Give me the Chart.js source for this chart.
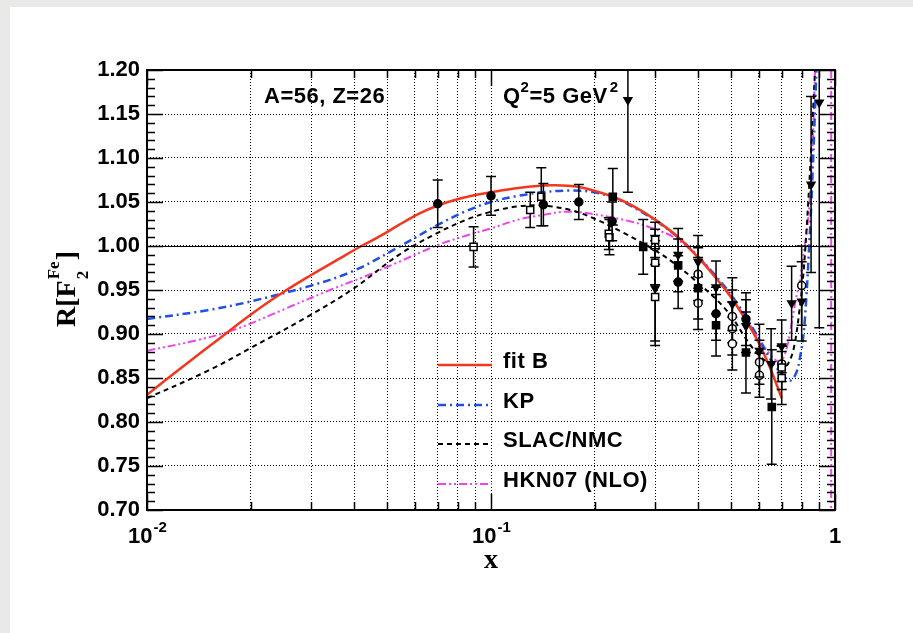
<!DOCTYPE html>
<html>
<head>
<meta charset="utf-8">
<script src="https://cdn.jsdelivr.net/npm/chart.js@4.4.1/dist/chart.umd.min.js"></script>
<style>
  html, body { margin: 0; padding: 0; background: #e9e9e7; }
  canvas { display: block; }
</style>
</head>
<body>
<canvas id="ratioChart" width="913" height="633"></canvas>
<script>
// Axis ticks
const xTicks = [0.01, 0.02, 0.03, 0.04, 0.05, 0.06, 0.07, 0.08, 0.09,
                0.1, 0.2, 0.3, 0.4, 0.5, 0.6, 0.7, 0.8, 0.9, 1];
const xDecades = [0.01, 0.1, 1];
const xDecadeLabels = [['10', '-2'], ['10', '-1'], ['1', '']];
const yTicks = [0.70, 0.75, 0.80, 0.85, 0.90, 0.95, 1.00, 1.05, 1.10, 1.15, 1.20];

// Model curves, [x, R]
const fitB = [
  [0.010, 0.831], [0.013, 0.866], [0.016, 0.893], [0.020, 0.922], [0.025, 0.948],
  [0.030, 0.967], [0.036, 0.985], [0.042, 1.000], [0.048, 1.012], [0.054, 1.024],
  [0.062, 1.037], [0.070, 1.046], [0.078, 1.052], [0.088, 1.057], [0.100, 1.061],
  [0.120, 1.066], [0.150, 1.069], [0.180, 1.067], [0.226, 1.056], [0.260, 1.045],
  [0.300, 1.030], [0.350, 1.010], [0.400, 0.987], [0.450, 0.964], [0.500, 0.941],
  [0.550, 0.916], [0.600, 0.890], [0.650, 0.860], [0.700, 0.827]
];
const kp = [
  [0.010, 0.917], [0.015, 0.927], [0.020, 0.937], [0.030, 0.955], [0.040, 0.972],
  [0.054, 0.999], [0.070, 1.024], [0.085, 1.040], [0.100, 1.050], [0.120, 1.057],
  [0.140, 1.061], [0.170, 1.063], [0.200, 1.061], [0.230, 1.054], [0.260, 1.044],
  [0.300, 1.029], [0.350, 1.010], [0.400, 0.988], [0.450, 0.966], [0.500, 0.944],
  [0.550, 0.920], [0.600, 0.895], [0.650, 0.871], [0.700, 0.855], [0.740, 0.847],
  [0.770, 0.855], [0.790, 0.872], [0.810, 0.900], [0.825, 0.940], [0.840, 0.995],
  [0.855, 1.055], [0.870, 1.130], [0.883, 1.200]
];
const slacNmc = [
  [0.010, 0.827], [0.015, 0.858], [0.020, 0.884], [0.030, 0.922], [0.040, 0.952],
  [0.054, 0.990], [0.070, 1.015], [0.085, 1.030], [0.100, 1.039], [0.120, 1.045],
  [0.140, 1.046], [0.170, 1.041], [0.200, 1.031], [0.240, 1.016], [0.300, 0.995],
  [0.350, 0.977], [0.400, 0.958], [0.450, 0.940], [0.500, 0.920], [0.550, 0.895],
  [0.600, 0.876], [0.650, 0.866], [0.700, 0.862], [0.730, 0.866], [0.760, 0.885],
  [0.790, 0.930], [0.810, 0.970], [0.830, 1.030], [0.850, 1.100], [0.870, 1.180],
  [0.875, 1.200]
];
const hkn07 = [
  [0.010, 0.881], [0.014, 0.893], [0.018, 0.905], [0.025, 0.928], [0.034, 0.950],
  [0.044, 0.967], [0.054, 0.982], [0.070, 1.001], [0.085, 1.012], [0.100, 1.020],
  [0.120, 1.030], [0.140, 1.035], [0.166, 1.039], [0.200, 1.036], [0.260, 1.027],
  [0.300, 1.019], [0.340, 1.010], [0.400, 0.988], [0.450, 0.965], [0.500, 0.942],
  [0.550, 0.918], [0.600, 0.895], [0.650, 0.876], [0.690, 0.868], [0.710, 0.874],
  [0.730, 0.890], [0.750, 0.915], [0.770, 0.940], [0.790, 0.960], [0.810, 0.990],
  [0.830, 1.020], [0.845, 1.055], [0.860, 1.110], [0.875, 1.200]
];
// HKN07 branch coming back down the full frame close to x = 1
const hkn07Edge = [[0.975, 1.200], [0.975, 0.700]];

// Measurements, [x, R, error]
const filledCircles = [
  [0.070, 1.048, 0.027], [0.100, 1.057, 0.022], [0.142, 1.047, 0.024], [0.180, 1.050, 0.020],
  [0.225, 1.028, 0.022], [0.350, 0.959, 0.030], [0.451, 0.923, 0.030], [0.551, 0.917, 0.030]
];
const openSquares = [
  [0.089, 0.999, 0.023], [0.130, 1.041, 0.020], [0.140, 1.056, 0.033], [0.220, 1.014, 0.018],
  [0.221, 1.010, 0.020], [0.300, 1.007, 0.020], [0.300, 0.981, 0.025], [0.300, 0.942, 0.055],
  [0.700, 0.862, 0.025], [0.700, 0.850, 0.030]
];
const filledSquares = [
  [0.226, 1.056, 0.032], [0.277, 0.999, 0.031], [0.350, 0.978, 0.030], [0.400, 0.952, 0.035],
  [0.451, 0.910, 0.035], [0.551, 0.879, 0.046], [0.655, 0.817, 0.065]
];
const downTriangles = [
  [0.250, 1.166, 0.105], [0.300, 0.952, 0.060], [0.350, 0.990, 0.030], [0.400, 0.982, 0.030],
  [0.451, 0.953, 0.030], [0.503, 0.934, 0.030], [0.551, 0.909, 0.030], [0.603, 0.881, 0.030],
  [0.652, 0.866, 0.040], [0.700, 0.886, 0.030], [0.748, 0.935, 0.042], [0.800, 0.937, 0.045],
  [0.852, 1.070, 0.100], [0.900, 1.163, 0.256]
];
const openCircles = [
  [0.300, 0.999, 0.020], [0.400, 0.968, 0.030], [0.400, 0.935, 0.030], [0.503, 0.920, 0.030],
  [0.503, 0.906, 0.030], [0.503, 0.889, 0.030], [0.603, 0.868, 0.025], [0.603, 0.853, 0.025],
  [0.700, 0.866, 0.020], [0.800, 0.955, 0.045]
];

const SANS = '"Liberation Sans", Arial, sans-serif';
const SERIF = '"Liberation Serif", "Times New Roman", serif';

const curve = (label, pts, color, width, dash, inLegend = true) => ({
  label,
  data: pts.map(([x, y]) => ({ x, y })),
  showLine: true,
  borderColor: color,
  borderWidth: width,
  borderDash: dash,
  borderCapStyle: 'butt',
  pointRadius: 0,
  tension: 0.35,
  order: 2,
  inLegend
});

const points = (pts, style, filled, radius, rotation) => ({
  data: pts.map(([x, y, err]) => ({ x, y, err })),
  pointStyle: style,
  pointRadius: radius,
  pointRotation: rotation || 0,
  pointBackgroundColor: filled ? '#000' : '#fff',
  pointBorderColor: '#000',
  pointBorderWidth: 1.5,
  errorBars: true,
  order: 1
});

// error bars go under each marker set
const errorBarPlugin = {
  id: 'errorBars',
  beforeDatasetDraw(chart, args) {
    const ds = chart.data.datasets[args.index];
    if (!ds.errorBars) return;
    const { ctx, chartArea: a } = chart;
    const xs = chart.scales.x, ys = chart.scales.y;
    ctx.save();
    ctx.beginPath();
    ctx.rect(a.left, a.top, a.right - a.left, a.bottom - a.top);
    ctx.clip();
    ctx.strokeStyle = '#000';
    ctx.lineWidth = 1.5;
    ds.data.forEach(p => {
      const px = xs.getPixelForValue(p.x);
      const top = ys.getPixelForValue(p.y + p.err);
      const bot = ys.getPixelForValue(p.y - p.err);
      ctx.beginPath();
      ctx.moveTo(px, top); ctx.lineTo(px, bot);
      ctx.moveTo(px - 5, top); ctx.lineTo(px + 5, top);
      ctx.moveTo(px - 5, bot); ctx.lineTo(px + 5, bot);
      ctx.stroke();
    });
    ctx.restore();
  }
};

const framePlugin = {
  id: 'frame',
  beforeDraw(chart) {
    const ctx = chart.ctx;
    ctx.save();
    ctx.fillStyle = '#e9e9e7';
    ctx.fillRect(0, 0, chart.width, chart.height);
    ctx.fillStyle = '#fff';
    ctx.fillRect(10, 7, chart.width - 10, chart.height - 7);
    ctx.restore();
  },
  afterDraw(chart) {
    const { ctx, chartArea: a } = chart;
    const xs = chart.scales.x, ys = chart.scales.y;
    ctx.save();
    ctx.strokeStyle = '#000';

    // solid line at R = 1
    ctx.lineWidth = 1;
    const y1 = Math.round(ys.getPixelForValue(1)) + 0.5;
    ctx.beginPath(); ctx.moveTo(a.left, y1); ctx.lineTo(a.right, y1); ctx.stroke();

    // inward ticks on all four sides
    ctx.lineWidth = 1.5;
    ctx.beginPath();
    for (let i = 70; i <= 120; i++) {
      const py = Math.round(ys.getPixelForValue(i / 100)) + 0.5;
      const len = i % 5 === 0 ? 16 : 8;
      ctx.moveTo(a.left, py); ctx.lineTo(a.left + len, py);
      ctx.moveTo(a.right, py); ctx.lineTo(a.right - len, py);
    }
    xTicks.forEach(v => {
      const px = Math.round(xs.getPixelForValue(v)) + 0.5;
      const len = xDecades.includes(v) ? 16 : 8;
      ctx.moveTo(px, a.bottom); ctx.lineTo(px, a.bottom - len);
      ctx.moveTo(px, a.top); ctx.lineTo(px, a.top + len);
    });
    ctx.stroke();

    ctx.lineWidth = 2;
    ctx.strokeRect(a.left, a.top, a.right - a.left, a.bottom - a.top);

    // tick labels
    ctx.fillStyle = '#000';
    ctx.font = 'bold 22px ' + SANS;
    ctx.textAlign = 'right';
    ctx.textBaseline = 'middle';
    yTicks.forEach(v => ctx.fillText(v.toFixed(2), a.left - 7, ys.getPixelForValue(v)));

    ctx.textAlign = 'left';
    ctx.textBaseline = 'alphabetic';
    xDecades.forEach((v, i) => {
      const [base, exp] = xDecadeLabels[i];
      ctx.font = 'bold 22px ' + SANS;
      const wb = ctx.measureText(base).width;
      ctx.font = 'bold 15px ' + SANS;
      const we = exp ? ctx.measureText(exp).width : 0;
      const x0 = xs.getPixelForValue(v) - (wb + we) / 2;
      ctx.font = 'bold 22px ' + SANS;
      ctx.fillText(base, x0, 543);
      if (exp) {
        ctx.font = 'bold 15px ' + SANS;
        ctx.fillText(exp, x0 + wb + 1, 532);
      }
    });

    // axis titles
    ctx.font = 'bold 28px ' + SERIF;
    ctx.textAlign = 'center';
    ctx.fillText('x', (a.left + a.right) / 2, 568);

    ctx.save();
    ctx.translate(75, 289);
    ctx.rotate(-Math.PI / 2);
    ctx.textAlign = 'left';
    const big = 'bold 28px ' + SERIF, small = 'bold 17px ' + SERIF;
    ctx.font = big;
    const w1 = ctx.measureText('R[F').width;
    const w3 = ctx.measureText(']').width;
    ctx.font = small;
    const w2 = Math.max(ctx.measureText('Fe').width, ctx.measureText('2').width);
    let cx = -(w1 + w2 + w3 + 2) / 2;
    ctx.font = big; ctx.fillText('R[F', cx, 0); cx += w1 + 1;
    ctx.font = small; ctx.fillText('Fe', cx, -16); ctx.fillText('2', cx, 13); cx += w2 + 1;
    ctx.font = big; ctx.fillText(']', cx, 0);
    ctx.restore();

    // annotations
    ctx.textAlign = 'left';
    ctx.letterSpacing = '0.5px';
    ctx.font = 'bold 22px ' + SANS;
    ctx.fillText('A=56, Z=26', 264, 103);
    let qx = 503;
    ctx.fillText('Q', qx, 103); qx += ctx.measureText('Q').width;
    ctx.font = 'bold 15px ' + SANS;
    ctx.fillText('2', qx, 92); qx += ctx.measureText('2').width;
    ctx.font = 'bold 22px ' + SANS;
    ctx.fillText('=5 GeV', qx, 103); qx += ctx.measureText('=5 GeV').width + 2;
    ctx.font = 'bold 15px ' + SANS;
    ctx.fillText('2', qx, 92);

    // legend
    const rows = [365, 405, 444, 484];
    chart.data.datasets.filter(d => d.inLegend).forEach((d, i) => {
      const ly = rows[i];
      ctx.strokeStyle = d.borderColor;
      ctx.lineWidth = d.borderWidth;
      ctx.setLineDash(d.borderDash);
      ctx.beginPath(); ctx.moveTo(438, ly); ctx.lineTo(492, ly); ctx.stroke();
      ctx.setLineDash([]);
      ctx.font = 'bold 22px ' + SANS;
      ctx.fillStyle = '#000';
      ctx.fillText(d.label, 503, ly + 3);
    });
    ctx.restore();
  }
};

new Chart(document.getElementById('ratioChart'), {
  type: 'scatter',
  data: {
    datasets: [
      curve('fit B', fitB, '#f4361e', 2.5, []),
      curve('KP', kp, '#1f4fe4', 2.5, [8, 4, 2, 4]),
      curve('SLAC/NMC', slacNmc, '#000000', 2, [5, 4]),
      curve('HKN07 (NLO)', hkn07, '#ee44ee', 2, [8, 3, 2, 3, 2, 3]),
      Object.assign(curve('HKN07 (NLO)', hkn07Edge, '#ee44ee', 2, [8, 3, 2, 3, 2, 3], false), { tension: 0 }),
      points(filledCircles, 'circle', true, 4),
      points(openSquares, 'rect', false, 5),
      points(filledSquares, 'rect', true, 5),
      points(downTriangles, 'triangle', true, 4.5, 180),
      points(openCircles, 'circle', false, 4)
    ]
  },
  options: {
    responsive: false,
    animation: false,
    events: [],
    layout: { padding: { left: 147, right: 78, top: 70, bottom: 123 } },
    plugins: { legend: { display: false }, tooltip: { enabled: false } },
    scales: {
      x: {
        type: 'logarithmic',
        min: 0.01,
        max: 1,
        afterBuildTicks: s => { s.ticks = xTicks.map(v => ({ value: v })); },
        afterFit: s => { s.height = 0; },
        ticks: { display: false },
        grid: { color: '#000', lineWidth: 1, drawTicks: false },
        border: { display: false, dash: [1, 2] }
      },
      y: {
        type: 'linear',
        min: 0.7,
        max: 1.2,
        afterBuildTicks: s => { s.ticks = yTicks.map(v => ({ value: v })); },
        afterFit: s => { s.width = 0; },
        ticks: { display: false },
        grid: { color: '#000', lineWidth: 1, drawTicks: false },
        border: { display: false, dash: [1, 2] }
      }
    }
  },
  plugins: [framePlugin, errorBarPlugin]
});
</script>
</body>
</html>
